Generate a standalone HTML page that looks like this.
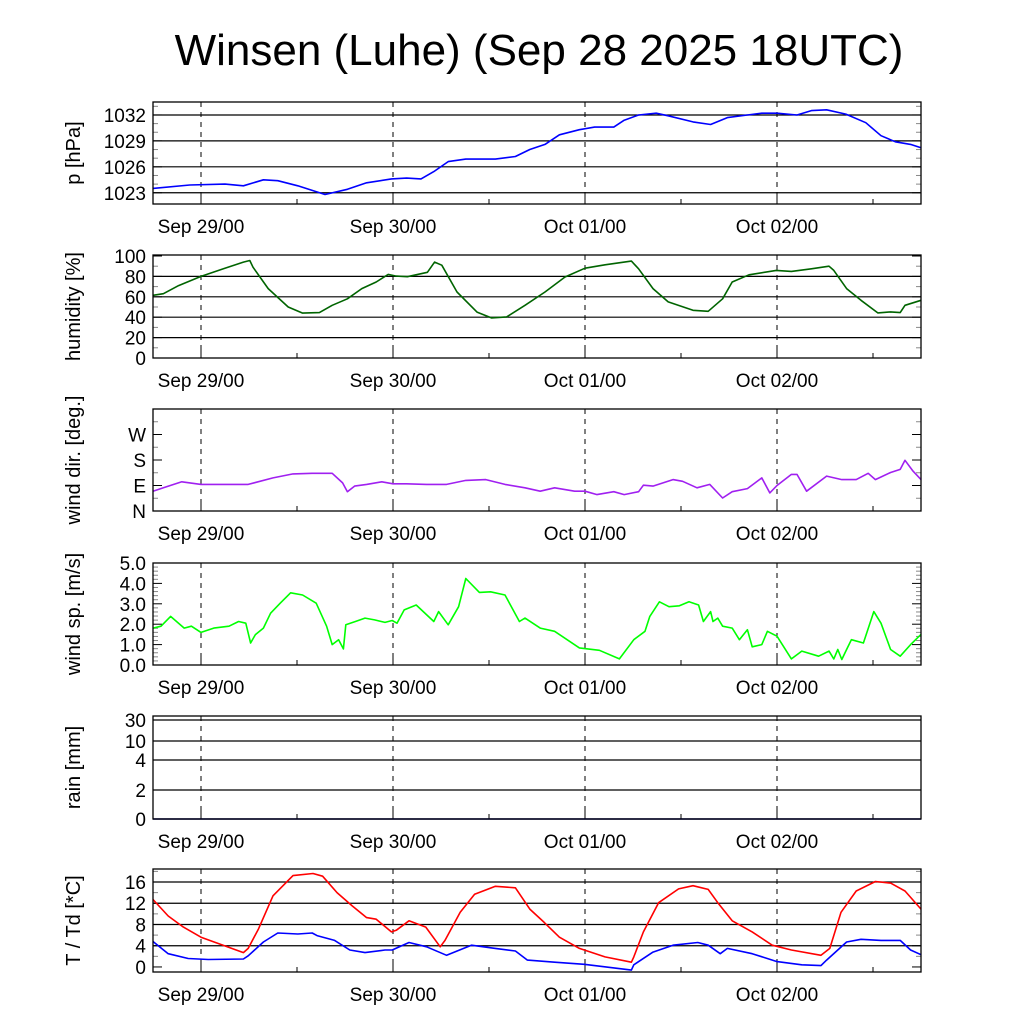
<!DOCTYPE html>
<html><head><meta charset="utf-8"><style>
html,body{margin:0;padding:0;background:#fff}
svg{display:block;font-family:"Liberation Sans",sans-serif}
</style></head><body>
<svg id="c" width="1024" height="1024" viewBox="0 0 1024 1024">
<text x="539" y="65" font-size="44" text-anchor="middle">Winsen (Luhe) (Sep 28 2025 18UTC)</text>
</svg>
<script>
// ---- data (hours since Sep 28 18UTC) ----
const dayLabels = ["Sep 29/00","Sep 30/00","Oct 01/00","Oct 02/00"];
const dayHours = [6,30,54,78];
const pTimes = [0,4.6,9,11.3,13.8,15.6,18.1,21.5,24.3,26.7,29.8,31.7,33.5,35.1,36.9,39.1,42.8,45.3,47.1,49,50.8,53.3,55.2,57.6,58.9,60.7,62.9,64.4,67.5,69.7,71.8,74.3,76.1,78,80.5,82.3,84.2,86.6,89.1,91,92.8,94.7,96];
const pValues = [1023.5,1023.9,1024.0,1023.8,1024.5,1024.4,1023.8,1022.8,1023.4,1024.15,1024.6,1024.7,1024.6,1025.45,1026.6,1026.9,1026.9,1027.2,1028.0,1028.6,1029.7,1030.3,1030.6,1030.6,1031.4,1032.0,1032.2,1031.9,1031.2,1030.9,1031.7,1032.0,1032.2,1032.2,1032.0,1032.5,1032.6,1032.1,1031.1,1029.6,1028.9,1028.6,1028.2];
const hTimes = [0,1.3,3.2,6,8.8,11.3,12.1,12.5,14.4,16.9,18.7,20.8,22.4,24.3,26.1,27.9,29.4,30.4,31.8,34.3,35.2,36.1,38,40.5,42.3,44.2,46.5,49,51.5,54,56.5,59.8,60.7,62.5,64.4,67.5,69.4,71.2,72.4,74.5,77.9,79.8,82.3,84.5,85.1,86.7,88.5,90.6,92.2,93.4,94,96];
const hValues = [61.5,63,71,80,87.5,94,95.6,89,68,50,44,44.5,51.7,58,68,74.5,82,80.3,79.7,84,94,91,64.7,45,39.3,40.3,51.7,64.7,79.4,88,91.4,95,87.5,68,55,46.8,45.8,58,74.5,81.6,85.9,84.9,87.5,90,85.9,68,56.6,44.2,45.2,44.5,51.7,56.6];
const dTimes = [0,1.3,3.6,6,8.2,11.9,15,17.5,19.9,22.4,23.7,24.3,25.2,26.7,28.6,30,31.7,34.2,36.7,39.1,41.6,44,46.5,48.4,50.2,52.7,54,55.5,57.6,58.9,60.7,61.3,62.5,65,66.2,68,69.6,71.2,72.4,74.3,76.1,77.1,78,79.8,80.5,81.7,84.2,86.1,87.9,89.4,90.3,92.2,93.4,94,95,96];
const dValues = [70,82,103,94,94,94,117,131,133,133,99,68,88,94,103,96,96,94,94,108,111,94,82,70,82,70,70,58,68,58,68,91,88,111,105,82,94,46,68,79,117,64,90,129,129,70,123,111,111,133,111,136,147,179,141,111];
const wTimes = [0,1,2.2,3.9,4.8,6,7.6,9.5,10.7,11.6,12.2,12.8,13.8,14.7,15.9,17.2,18.7,20.4,21.7,22.4,23.2,23.8,24.1,25.3,26.5,27.7,29,29.9,30.5,31.4,32.9,35.1,35.7,36.9,38.2,39.1,40.8,42.2,44,45.8,46.5,48.4,50.2,53.3,55.8,58.3,60.1,61.5,62.1,63.3,64.5,65.8,67,68.2,68.8,69.7,70,70.6,71.2,72.4,73.3,74.3,74.9,76.1,76.8,78,79.8,81.1,83.2,84.5,85.1,85.6,86.1,86.7,87.3,88.8,90.1,91,92.2,93.4,94.7,96];
const wValues = [1.81,1.9,2.38,1.81,1.9,1.6,1.81,1.9,2.13,2.05,1.08,1.49,1.81,2.54,3.03,3.54,3.43,3.03,1.9,1.0,1.24,0.79,1.97,2.13,2.3,2.21,2.09,2.18,2.05,2.7,2.94,2.13,2.62,1.97,2.86,4.24,3.56,3.59,3.43,2.13,2.3,1.81,1.65,0.84,0.72,0.3,1.24,1.65,2.38,3.1,2.86,2.9,3.1,2.94,2.13,2.62,2.13,2.3,1.9,1.81,1.24,1.73,0.89,1.0,1.65,1.41,0.3,0.68,0.43,0.68,0.3,0.76,0.27,0.76,1.24,1.08,2.62,2.05,0.76,0.43,1.0,1.5];
const rTimes = [0,24,48,72,96];
const rValues = [0,0,0,0,0];
const rTicks = [0,2,4,10,30];
const tTimes = [0,1.9,3.8,6,8.2,11.3,11.9,13.2,15,17.5,20,21.2,23,24.9,26.7,27.9,29.8,30.4,32,34.1,35.9,36.5,38.4,40.2,42.8,45.3,47.1,48.9,50.8,53.3,56.5,59.8,60.1,61.3,63.2,65.7,67.5,69.4,70.6,72.4,74.9,77.4,79.8,83.5,84.6,86,87.9,90.3,92.2,94,96];
const tValues = [12.7,9.6,7.5,5.6,4.4,2.7,3.5,7.2,13.4,17.2,17.6,17.1,14,11.5,9.3,9.0,6.6,6.9,8.7,7.5,3.8,5.0,10.3,13.7,15.2,14.9,10.9,8.4,5.6,3.5,1.9,0.9,1.9,6.6,12.1,14.7,15.3,14.6,12.1,8.7,6.6,4.1,3.2,2.2,3.5,10.3,14.3,16.1,15.8,14.3,10.9];
const tdTimes = [0,1.9,4.4,6.9,11.3,11.9,13.8,15.6,18.1,19.9,20.5,22.7,24.6,26.5,29,29.9,32,34.2,36.7,39.8,42.8,45.3,46.8,50.2,53.9,59.8,60.1,62.5,65,68.1,69.4,70.9,71.8,74.9,78,81.1,83.5,84.2,86.7,88.5,91,93.4,94.7,96];
const tdValues = [4.8,2.5,1.6,1.4,1.5,2.1,4.7,6.4,6.2,6.4,5.9,5.0,3.2,2.7,3.2,3.2,4.6,3.8,2.2,4.1,3.5,3.0,1.3,0.9,0.5,-0.6,0.4,2.8,4.1,4.6,4.1,2.5,3.5,2.5,1.0,0.4,0.25,1.3,4.7,5.2,5.0,5.0,3.2,2.3];

// ---- layout ----
const NS="http://www.w3.org/2000/svg";
const svg=document.getElementById('c');
const X0=153,X1=921,H0=0,H1=96;
function xs(h){return X0+(h-H0)/(H1-H0)*(X1-X0);}
function mk(tag,attrs,parent){const e=document.createElementNS(NS,tag);for(const k in attrs)e.setAttribute(k,attrs[k]);(parent||svg).appendChild(e);return e;}

function panel(o){
  const g=mk('g',{});
  
  
  const ys=o.ys;
  o.grid.forEach(v=>{const l=mk('line',{x1:X0,x2:X1,y1:ys(v),y2:ys(v),stroke:'#000','stroke-width':1.2},g);
    });
  (o.minor||[]).forEach(v=>{const y=ys(v);
    mk('line',{x1:X0,x2:X0+5,y1:y,y2:y,stroke:'#888'},g);mk('line',{x1:X1-5,x2:X1,y1:y,y2:y,stroke:'#888'},g);});
  o.ticks.forEach((v,i)=>{const y=ys(v);
    mk('line',{x1:X0,x2:X0+9,y1:y,y2:y,stroke:'#000'},g);mk('line',{x1:X1-9,x2:X1,y1:y,y2:y,stroke:'#000'},g);
    const t=mk('text',{x:146,y:y+7,'font-size':19,'text-anchor':'end'},g);t.textContent=o.labels[i];
    });
  dayHours.forEach((h,i)=>{const x=xs(h);
    const l=mk('line',{x1:x,x2:x,y1:o.top,y2:o.bot,stroke:'#000','stroke-dasharray':'5,5'},g);
    
    mk('line',{x1:x,x2:x,y1:o.bot-9,y2:o.bot,stroke:'#000'},g);
    const t=mk('text',{x:x,y:o.bot+29,'font-size':19,'text-anchor':'middle'},g);t.textContent=dayLabels[i];
    
    mk('line',{x1:xs(h+12),x2:xs(h+12),y1:o.bot-5,y2:o.bot,stroke:'#000'},g);});
  o.series.forEach(s=>{let d='';s.t.forEach((h,i)=>{d+=(i?'L':'M')+xs(h).toFixed(1)+','+ys(s.v[i]).toFixed(1);});
    const p=mk('path',{d:d,fill:'none',stroke:s.c,'stroke-width':1.6,'stroke-linejoin':'round'},g);
    });
  const r=mk('rect',{x:X0,y:o.top,width:X1-X0,height:o.bot-o.top,fill:'none',stroke:'#000','stroke-width':1.3},g);
  
  const cy=(o.top+o.bot)/2;
  const at=mk('text',{x:0,y:0,'font-size':20,'text-anchor':'middle',transform:`translate(80,${cy}) rotate(-90)`},g);
  at.textContent=o.title;
  
}
function lin(top,bot,vb,vt){return v=>bot-(v-vb)/(vt-vb)*(bot-top);}

panel({name:'pressure',top:102,bot:204,ys:lin(102,204,1021.7,1033.5),grid:[1023,1026,1029,1032],
  ticks:[1023,1026,1029,1032],labels:['1023','1026','1029','1032'],minor:[1024,1025,1027,1028,1030,1031,1033],
  title:'p [hPa]',series:[{t:pTimes,v:pValues,c:'#0000ff',n:'pressure-line'}]});
panel({name:'humidity',top:255,bot:358,ys:lin(256,358,0,100),grid:[20,40,60,80],
  ticks:[0,20,40,60,80,100],labels:['0','20','40','60','80','100'],minor:[10,30,50,70,90],
  title:'humidity [%]',series:[{t:hTimes,v:hValues,c:'#006400',n:'humidity-line'}]});
panel({name:'wind-dir',top:409,bot:511,ys:lin(409,511,0,360),grid:[],
  ticks:[0,90,180,270],labels:['N','E','S','W'],minor:[45,135,225,315],
  title:'wind dir. [deg.]',series:[{t:dTimes,v:dValues,c:'#a020f0',n:'wind-direction-line'}]});
panel({name:'wind-speed',top:563,bot:665,ys:lin(563,665,0,5),grid:[],
  ticks:[0,1,2,3,4,5],labels:['0.0','1.0','2.0','3.0','4.0','5.0'],minor:[0.2,0.4,0.6,0.8,1.2,1.4,1.6,1.8,2.2,2.4,2.6,2.8,3.2,3.4,3.6,3.8,4.2,4.4,4.6,4.8],
  title:'wind sp. [m/s]',series:[{t:wTimes,v:wValues,c:'#00ff00',n:'wind-speed-line'}]});
const rPix=[819,790,760,741,720];
function rys(v){for(let i=1;i<rTicks.length;i++){if(v<=rTicks[i]){const f=(v-rTicks[i-1])/(rTicks[i]-rTicks[i-1]);return rPix[i-1]+f*(rPix[i]-rPix[i-1]);}}return 716;}
panel({name:'rain',top:716,bot:819,ys:rys,grid:[2,4,10,30],
  ticks:rTicks,labels:rTicks.map(String),minor:[],
  title:'rain [mm]',series:[{t:rTimes,v:rValues,c:'#00008b',n:'rain-line'}]});
panel({name:'temperature',top:869,bot:972,ys:lin(869,972,-0.95,18.45),grid:[4,8,12,16],
  ticks:[0,4,8,12,16],labels:['0','4','8','12','16'],minor:[2,6,10,14,18],
  title:'T / Td [*C]',series:[{t:tTimes,v:tValues,c:'#ff0000',n:'temperature-line'},{t:tdTimes,v:tdValues,c:'#0000ff',n:'dewpoint-line'}]});
</script>
</body></html>
